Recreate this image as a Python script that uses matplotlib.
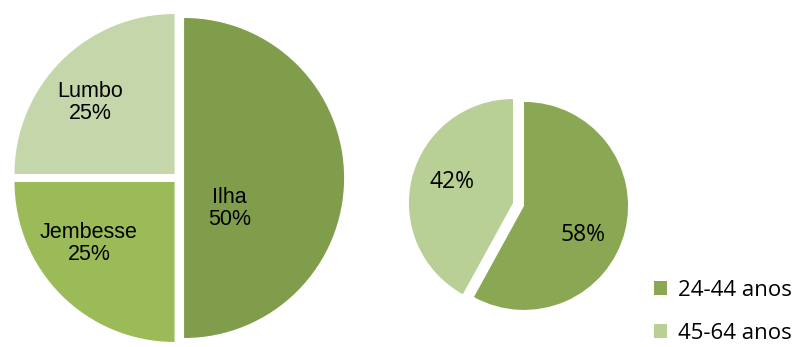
"""Two pie charts: respondents by locality and by age group."""

import matplotlib
matplotlib.use("Agg")
import matplotlib.pyplot as plt

# ── Data ──────────────────────────────────────────────────────────────────────
localities     = ["Ilha", "Jembesse", "Lumbo"]
locality_share = [50, 25, 25]

age_groups = ["24-44 anos", "45-64 anos"]
age_share  = [58, 42]

# ── Styles ────────────────────────────────────────────────────────────────────
LOC_COLORS = ["#7F9D4A", "#9BBB59", "#C4D6AA"]
AGE_COLORS = ["#8AA853", "#B8CF96"]

# label anchor points, in units of pie radius ("best fit" placement)
LOC_LABEL_POS = [(0.32, -0.19), (-0.56, -0.41), (-0.55, 0.47)]
AGE_LABEL_POS = [(0.62, -0.29), (-0.64, 0.22)]

W, H = 795, 347
DPI = 100
PAD = 1.12


def pie_axes(fig, cx, cy, r):
    """Square axes centred at pixel (cx, cy) (y from top), unit pie radius = r px."""
    half = r * PAD
    ax = fig.add_axes([(cx - half) / W, (H - cy - half) / H,
                       2 * half / W, 2 * half / H])
    return ax


def finish(ax, texts, positions):
    ax.set_xlim(-PAD, PAD)
    ax.set_ylim(-PAD, PAD)
    ax.set_aspect("equal")
    ax.axis("off")
    for t, pos in zip(texts, positions):
        t.set_position(pos)
        t.set_ha("center")
        t.set_va("center")


fig = plt.figure(figsize=(W / DPI, H / DPI), dpi=DPI)

# Locality pie
ax1 = pie_axes(fig, 178.5, 178, 160)
_, t1 = ax1.pie(locality_share, colors=LOC_COLORS, startangle=90,
                counterclock=False, explode=[0.035] * 3, radius=1.0,
                wedgeprops=dict(linewidth=0),
                labels=[f"{n}\n{v}%" for n, v in zip(localities, locality_share)],
                textprops=dict(family="Liberation Sans", fontsize=15.5,
                               color="black", linespacing=1.05))
finish(ax1, t1, LOC_LABEL_POS)

# Age pie
ax2 = pie_axes(fig, 518.5, 204.5, 104)
wedges, t2 = ax2.pie(age_share, colors=AGE_COLORS, startangle=90,
                     counterclock=False, explode=[0.055] * 2, radius=1.0,
                     wedgeprops=dict(linewidth=0),
                     labels=[f"{v}%" for v in age_share],
                     textprops=dict(family="Open Sans", fontsize=16.5,
                                    color="black"))
finish(ax2, t2, AGE_LABEL_POS)

fig.legend(wedges, age_groups, loc="upper left",
           bbox_to_anchor=(654 / W, 1 - 280 / H), frameon=False,
           prop=dict(family="Open Sans", size=16),
           handlelength=0.57, handleheight=0.57, handletextpad=0.5,
           labelspacing=0.98, borderpad=0, borderaxespad=0)

fig.savefig("out.png", dpi=DPI)
